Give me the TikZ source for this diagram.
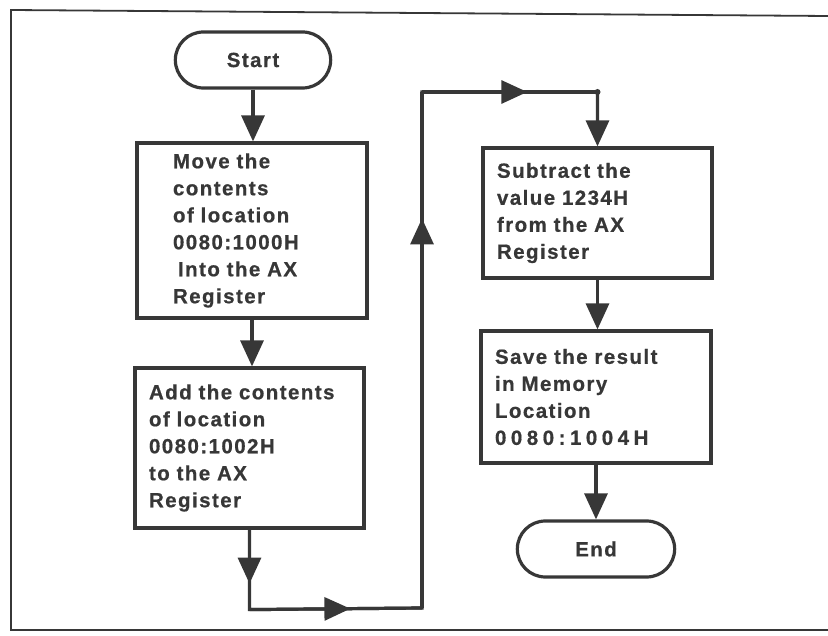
\documentclass[tikz,border=0pt]{standalone}
\usepackage{fontspec}
\newfontfamily\chartfont{Liberation Sans Bold}[LetterSpace=7,FakeBold=0.7]
\newcommand\chartsetup{\chartfont\fontsize{20.5pt}{27pt}\selectfont\spaceskip=9pt\relax}
\usetikzlibrary{arrows.meta,decorations.markings,shapes.misc}

\definecolor{ink}{RGB}{55,55,55}
\definecolor{txt}{RGB}{55,55,55}

\tikzset{
  flow/.style={draw=ink, line width=3.2pt, line join=miter},
  head/.style={-{Triangle[length=26pt,width=23pt]}},
  midhead/.style={postaction={decorate},
    decoration={markings, mark=at position #1 with {\arrow[ink]{Triangle[length=26pt,width=23pt]}}}},
  chartfont/.style={font=\chartsetup, text=txt},
  procbox/.style={draw=ink, line width=3.2pt, rectangle, align=left, chartfont,
    inner ysep=0pt},
  terminal/.style={draw=ink, line width=3.2pt, rounded rectangle, chartfont,
    minimum width=162pt, minimum height=56pt},
}

\begin{document}
\begin{tikzpicture}[x=1pt,y=-1pt]
  \useasboundingbox (0,0) rectangle (828,636);

  % page frame
  \draw[ink, line width=1.8pt] (828,16) -- (11,10) -- (11,630) -- (828,630);

  % nodes
  \node[terminal] (start) at (253,60) {Start};

  \node[procbox, minimum width=230pt, minimum height=175pt,
        text width=158pt, inner xsep=36pt] (move) at (252,230.5)
    {Move the\\contents\\of location\\0080:1000H\\\hspace*{5pt}Into the AX\\Register};

  \node[procbox, minimum width=229pt, minimum height=160pt,
        text width=201pt, inner xsep=14pt] (add) at (249.5,448)
    {Add the contents\\of location\\0080:1002H\\to the AX\\Register};

  \node[procbox, minimum width=229pt, minimum height=130pt,
        text width=201pt, inner xsep=14pt] (sub) at (597.5,213)
    {Subtract the\\value 1234H\\from the AX\\Register};

  \node[procbox, minimum width=230pt, minimum height=132pt,
        text width=202pt, inner xsep=14pt] (save) at (596,397)
    {Save the result\\in Memory\\Location\\{\addfontfeature{LetterSpace=22}0080:1004H}};

  \node[terminal, minimum width=164pt] (end) at (596,549) {End};

  % routing corners of the loop from the left column to the right one
  \path (add.south) ++(0,80) coordinate (c1);
  \coordinate (c2) at (422,608);
  \coordinate (c3) at (422,92);
  \coordinate (c4) at (sub.north |- c3);

  % connectors
  \draw[flow, head] (start.south) -- (start.south |- move.north);
  \draw[flow, head] (move.south) -- (move.south |- add.north);

  \draw[flow, head] (add.south) -- (c1) -- (c2) -- (c3) -- (c4) -- (sub.north);
  \draw[flow, midhead=0.675] (add.south) -- (c1);
  \draw[flow, midhead=0.585] (c1) -- (c2);
  \draw[flow, midhead=0.755] (c2) -- (c3);
  \draw[flow, midhead=0.60] (c3) -- (c4);
  \fill[ink] (c4) circle (3pt);

  \draw[flow, head] (sub.south) -- (sub.south |- save.north);
  \draw[flow, head] (save.south) -- (save.south |- end.north);
\end{tikzpicture}
\end{document}
